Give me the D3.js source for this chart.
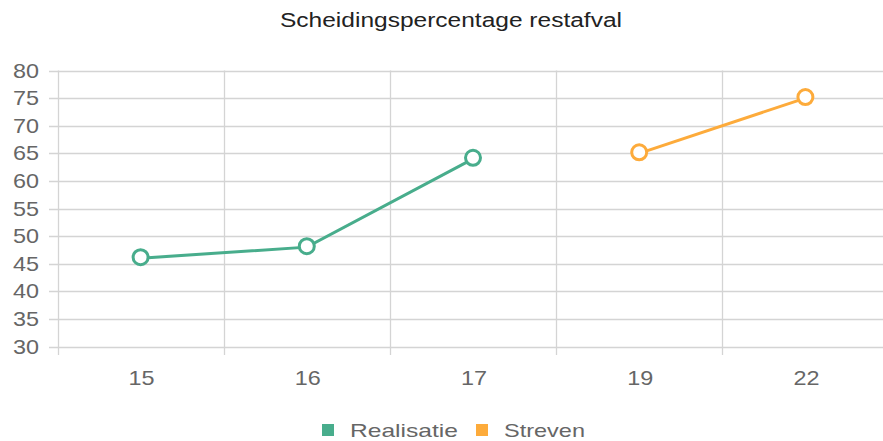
<!DOCTYPE html>
<html><head><meta charset="utf-8">
<script src="https://cdn.jsdelivr.net/npm/d3@7/dist/d3.min.js"></script>
<style>body{margin:0;background:#fff}svg{display:block;font-family:"Liberation Sans",Arial,sans-serif}</style>
</head><body><svg id="c" width="883" height="441"></svg>
<script>
const title = "Scheidingspercentage restafval";
const categories = ["15","16","17","19","22"];
const realisatie = [46, 48, 64, null, null];
const streven = [null, null, null, 65, 75];
const seriesNames = ["Realisatie","Streven"];
const yTicks = [30,35,40,45,50,55,60,65,70,75,80];

const colors = {Realisatie:"#48ad8c", Streven:"#fdab3b"};
const W=883,H=441;
const svg=d3.select("#c");
const x=d3.scaleBand().domain(categories).range([57.5,888.5]);
const y=d3.scaleLinear().domain([30,80]).range([346.5,70.5]);
const grid="#d4d4d4";

svg.append("g").selectAll("line").data(yTicks).join("line")
  .attr("x1",49).attr("x2",W).attr("y1",d=>Math.round(y(d))+0.5).attr("y2",d=>Math.round(y(d))+0.5)
  .attr("stroke",grid).attr("stroke-width",1.3);
const bounds=categories.map(c=>x(c)).concat([x(categories[categories.length-1])+x.bandwidth()]);
svg.append("g").selectAll("line").data(bounds).join("line")
  .attr("x1",d=>Math.round(d)+0.5).attr("x2",d=>Math.round(d)+0.5).attr("y1",70.5).attr("y2",355)
  .attr("stroke",grid).attr("stroke-width",1.3);

svg.append("g").selectAll("text").data(yTicks).join("text")
  .attr("transform",d=>`translate(39,${y(d)+7}) scale(1.17,1)`)
  .attr("text-anchor","end").attr("font-size",20).attr("fill","#666").text(d=>d);
svg.append("g").selectAll("text").data(categories).join("text")
  .attr("transform",d=>`translate(${x(d)+x.bandwidth()/2+1},${385}) scale(1.17,1)`)
  .attr("text-anchor","middle").attr("font-size",20).attr("fill","#666").text(d=>d);

svg.append("text").attr("x",451).attr("y",27).attr("text-anchor","middle")
  .attr("font-size",20).attr("fill","#222").attr("textLength",342).attr("lengthAdjust","spacingAndGlyphs").text(title);

const cx=d=>x(d.c)+x.bandwidth()/2;
function drawSeries(name, vals){
  const pts=categories.map((c,i)=>({c,v:vals[i]})).filter(d=>d.v!=null);
  const line=d3.line().x(cx).y(d=>y(d.v));
  svg.append("path").datum(pts).attr("d",line).attr("fill","none")
    .attr("stroke",colors[name]).attr("stroke-width",3);
  svg.append("g").selectAll("circle").data(pts).join("circle")
    .attr("cx",cx).attr("cy",d=>y(d.v)-1).attr("r",7.5)
    .attr("fill","#fff").attr("stroke",colors[name]).attr("stroke-width",3);
}
drawSeries("Realisatie",realisatie);
drawSeries("Streven",streven);

const legX=[322,476], legW=[108,81];
seriesNames.forEach((n,i)=>{
  svg.append("rect").attr("x",legX[i]).attr("y",424).attr("width",12).attr("height",12).attr("fill",colors[n]);
  svg.append("text").attr("x",legX[i]+28).attr("y",437).attr("font-size",19).attr("fill","#666")
    .attr("textLength",legW[i]).attr("lengthAdjust","spacingAndGlyphs").text(n);
});
</script></body></html>
